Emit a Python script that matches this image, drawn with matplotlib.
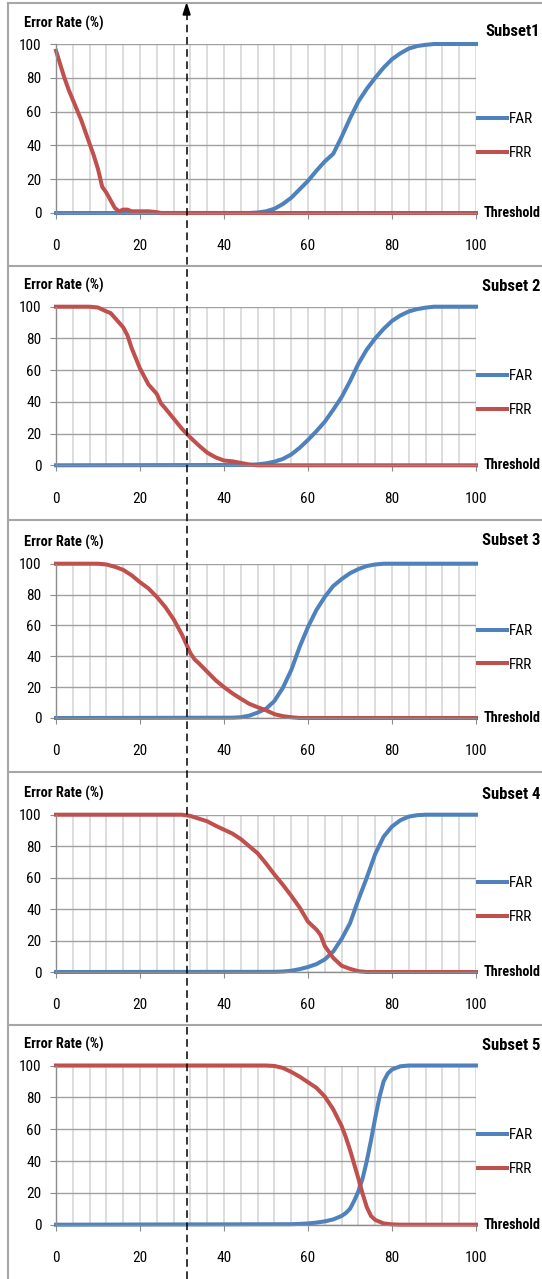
import matplotlib
matplotlib.use('Agg')
import matplotlib.pyplot as plt
from matplotlib import font_manager
from matplotlib.lines import Line2D

# ---- data (threshold -> error rate %) ----
far_x_1 = [0, 46, 48, 50, 52, 54, 56, 58, 60, 62, 64, 66, 68, 70, 72, 74, 76, 78, 80, 82, 84, 86, 88, 90, 100]
far_y_1 = [0, 0, 0.3, 1, 2.5, 5.3, 9, 14, 19, 25, 30.5, 35, 45, 56, 66, 73.5, 80, 86, 91, 94.5, 97.3, 98.8, 99.5, 100, 100]
frr_x_1 = [0, 1, 2, 3, 4, 5, 6, 7, 8, 9, 10, 11, 12, 13, 14, 15, 16, 17, 18, 20, 22, 24, 25, 100]
frr_y_1 = [96, 88, 80, 73, 67, 61, 55, 48, 41, 34, 26, 15.5, 12, 7.5, 3, 1, 2, 2, 1, 1, 1, 0.5, 0, 0]

far_x_2 = [0, 46, 48, 50, 52, 54, 56, 58, 60, 62, 64, 66, 68, 70, 72, 74, 76, 78, 80, 82, 84, 86, 88, 90, 100]
far_y_2 = [0, 0.2, 0.6, 1.2, 2.3, 4, 6.8, 11, 16, 21.5, 27.5, 35, 43, 53, 64, 73, 80, 86, 91, 94.5, 97, 98.5, 99.4, 100, 100]
frr_x_2 = [0, 8, 10, 12, 13, 14, 16, 17, 18, 20, 22, 24, 25, 26, 28, 30, 32, 34, 36, 38, 40, 42, 44, 46, 48, 100]
frr_y_2 = [100, 100, 99.5, 97, 96, 93, 87, 82, 74, 61, 51, 45, 39, 36, 29.5, 23, 17.5, 12.5, 8, 5, 3, 2.5, 1.5, 0.5, 0, 0]

far_x_3 = [0, 42, 44, 46, 48, 50, 52, 54, 56, 58, 60, 62, 64, 66, 68, 70, 72, 74, 76, 78, 100]
far_y_3 = [0, 0.2, 0.5, 1.5, 3.5, 6, 11, 19.5, 31, 46, 59, 70, 78.5, 85.5, 90, 93.8, 96.5, 98.5, 99.5, 100, 100]
frr_x_3 = [0, 10, 12, 14, 16, 18, 20, 22, 24, 26, 28, 30, 31, 32, 33, 34, 36, 38, 40, 42, 44, 46, 48, 50, 52, 54, 56, 58, 100]
frr_y_3 = [100, 100, 99.5, 98, 96, 92.5, 88, 84, 78.5, 72, 64, 54, 48, 42, 38, 35.5, 30, 24.5, 20, 16, 12.5, 9.2, 7, 5, 2.5, 1.2, 0.5, 0, 0]

far_x_4 = [0, 52, 54, 56, 58, 60, 62, 64, 66, 68, 70, 72, 74, 76, 78, 80, 82, 84, 86, 88, 100]
far_y_4 = [0, 0.1, 0.3, 0.8, 1.8, 3.2, 5, 8, 13, 21, 31, 46, 60, 75, 86, 92.5, 96.5, 98.8, 99.7, 100, 100]
frr_x_4 = [0, 30, 32, 34, 36, 38, 40, 42, 44, 46, 48, 50, 52, 54, 56, 58, 60, 62, 63, 64, 66, 68, 70, 72, 74, 100]
frr_y_4 = [100, 100, 99.2, 97.5, 95.8, 93, 90.5, 88, 84.5, 80, 75.5, 69, 62, 55.5, 48.5, 41, 32, 27, 23.5, 16.5, 9, 4, 2, 0.5, 0, 0]

far_x_5 = [0, 56, 58, 60, 62, 64, 66, 68, 69, 70, 71, 72, 73, 74, 75, 76, 77, 78, 79, 80, 82, 84, 100]
far_y_5 = [0, 0.3, 0.5, 0.8, 1.3, 2.1, 3.3, 5.5, 7.3, 10, 15, 21, 29, 40, 53, 67, 80, 90, 95, 97.5, 99.5, 100, 100]
frr_x_5 = [0, 50, 52, 54, 56, 58, 60, 62, 64, 66, 68, 69, 70, 71, 72, 73, 74, 75, 76, 78, 80, 82, 100]
frr_y_5 = [100, 100, 99.7, 98.5, 96, 93, 89.5, 86, 80.5, 72.5, 62, 55, 47, 38, 29, 19.5, 11, 5.5, 3, 0.8, 0.2, 0, 0]

subset_names = ['Subset1', 'Subset 2', 'Subset 3', 'Subset 4', 'Subset 5']
marked_threshold = 31.1
x_ticks = [0, 20, 40, 60, 80, 100]
y_ticks = [0, 20, 40, 60, 80, 100]

subsets = [
    (far_x_1, far_y_1, frr_x_1, frr_y_1),
    (far_x_2, far_y_2, frr_x_2, frr_y_2),
    (far_x_3, far_y_3, frr_x_3, frr_y_3),
    (far_x_4, far_y_4, frr_x_4, frr_y_4),
    (far_x_5, far_y_5, frr_x_5, frr_y_5),
]

# ---- layout (pixels of the 542x1279 canvas) ----
W, H = 542, 1279
plot_left, plot_right = 56, 476
plot_top = [44, 306.7, 563.7, 814.7, 1065.5]
plot_bottom = [213, 465.3, 718, 972, 1224.7]
separators = [3, 266, 520, 772, 1025]
title_dy = [12, 20, 23, 20, 20]

BLUE = '#4f81bd'
RED = '#c0504d'

# narrow font like the squeezed Calibri of the original
names = {f.name for f in font_manager.fontManager.ttflist}
family = 'Liberation Sans'
for cand in ['Roboto Condensed', 'PT Sans Narrow', 'Archivo Narrow', 'Liberation Sans Narrow']:
    if cand in names:
        family = cand
        break
plt.rcParams['font.family'] = [family, 'DejaVu Sans']

fig = plt.figure(figsize=(W / 100, H / 100), dpi=100)

axes = []
for i, (fx, fy, rx, ry) in enumerate(subsets):
    ax = fig.add_axes([plot_left / W, 1 - plot_bottom[i] / H,
                       (plot_right - plot_left) / W, (plot_bottom[i] - plot_top[i]) / H])
    ax.plot(fx, fy, color=BLUE, lw=2.9, label='FAR', clip_on=False, solid_joinstyle='round')
    ax.plot(rx, ry, color=RED, lw=2.9, label='FRR', clip_on=False, solid_joinstyle='round')
    ax.set_xlim(0, 100)
    ax.set_ylim(0, 100)
    ax.set_xticks(x_ticks)
    ax.set_xticks(range(0, 101, 4), minor=True)
    ax.set_yticks(y_ticks)

    ax.grid(axis='x', which='both', color='#d3d3d3', lw=1.1)
    ax.grid(axis='y', which='major', color='#a0a0a0', lw=1.0)
    ax.set_axisbelow(True)
    for s in ['top', 'right']:
        ax.spines[s].set_visible(False)
    for s in ['left', 'bottom']:
        ax.spines[s].set_color('#8c8c8c')
        ax.spines[s].set_linewidth(1.0)
    ax.tick_params(which='major', length=4, color='#8c8c8c', labelsize=11)
    ax.tick_params(axis='y', pad=6.5)
    ax.tick_params(axis='x', pad=15)
    ax.tick_params(which='minor', length=0)

    ax.annotate('Error Rate (%)', xy=(0, 1), xycoords='axes fraction',
                xytext=(-32, 21), textcoords='offset pixels',
                ha='left', va='center', fontsize=10.4, fontweight='bold')
    ax.annotate(subset_names[i], xy=(1, 1), xycoords='axes fraction',
                xytext=(64, title_dy[i]), textcoords='offset pixels',
                ha='right', va='center', fontsize=12, fontweight='bold')
    ax.text(1.019, 0, 'Threshold', transform=ax.transAxes,
            ha='left', va='center', fontsize=10.2, fontweight='bold')
    ax.legend(loc='center left', bbox_to_anchor=(1.004, 0.455), frameon=False,
              borderpad=0, borderaxespad=0, handlelength=1.95, handletextpad=0.1,
              labelspacing=1.3, fontsize=11)
    axes.append(ax)

# panel frames
for y in separators:
    fig.add_artist(Line2D([8 / W, 1], [1 - y / H] * 2, transform=fig.transFigure,
                          color='#a6a6a6', lw=1.5))
fig.add_artist(Line2D([8 / W, 8 / W], [0, 1 - separators[0] / H], transform=fig.transFigure,
                      color='#a6a6a6', lw=1.5))

# dashed marker through all panels
xd = fig.transFigure.inverted().transform(axes[0].transData.transform((marked_threshold, 0)))[0]
fig.add_artist(Line2D([xd, xd], [0, 1 - 14 / H], transform=fig.transFigure,
                      color='black', lw=1.1, linestyle=(0, (5, 3))))
fig.add_artist(plt.Polygon([[xd, 1 - 4 / H], [xd - 3.5 / W, 1 - 15 / H], [xd + 3.5 / W, 1 - 15 / H]],
                           closed=True, color='black', transform=fig.transFigure))

fig.savefig('out.png', dpi=100)
